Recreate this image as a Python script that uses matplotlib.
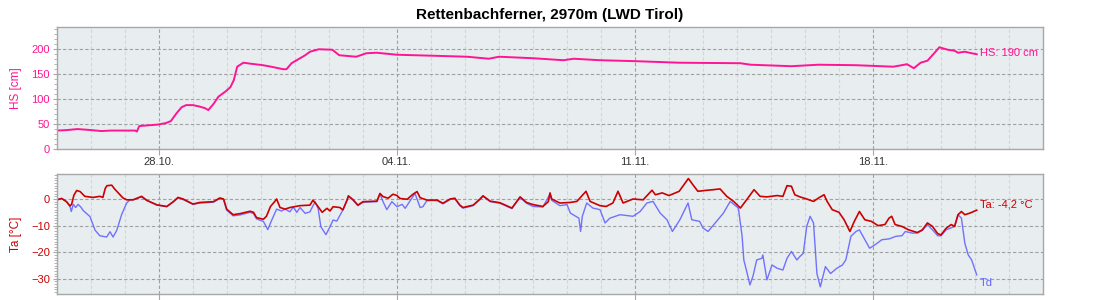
import numpy as np
import pandas as pd
import matplotlib
matplotlib.use('Agg')
import matplotlib.pyplot as plt
import matplotlib.dates as mdates
from matplotlib.ticker import MultipleLocator, FixedLocator

plt.rcParams['font.family'] = ['Liberation Sans', 'DejaVu Sans']

start = pd.Timestamp('2023-10-25')
end = pd.Timestamp('2023-11-23')
tick_days = ['2023-10-28', '2023-11-04', '2023-11-11', '2023-11-18']

# snow height HS [cm], time in days after start
hs_t = [0.0, 0.3, 0.6, 1.0, 1.3, 1.6, 2.0, 2.3, 2.35, 2.42, 2.6, 2.97, 3.2, 3.35, 3.52,
        3.67, 3.8, 4.0, 4.2, 4.35, 4.45, 4.6, 4.75, 4.95, 5.1, 5.2, 5.3, 5.48, 5.7, 6.06,
        6.3, 6.65, 6.75, 6.9, 7.1, 7.3, 7.44, 7.7, 8.1, 8.3, 8.8, 9.1, 9.4, 10.0, 11.06,
        12.06, 12.7, 13.0, 14.0, 14.9, 15.2, 15.97, 17.06, 18.3, 20.1, 20.4, 21.6, 22.4,
        23.5, 24.6, 25.0, 25.2, 25.4, 25.6, 25.8, 25.95, 26.2, 26.4, 26.5, 26.7, 26.9, 27.05]
hs_v = [37, 38, 40, 38, 36, 37, 37, 37, 35, 46, 47, 49, 52, 56, 72,
        84, 88, 88, 85, 82, 78, 90, 105, 115, 124, 138, 165, 173, 171, 168,
        165, 160, 160, 172, 180, 188, 195, 200, 199, 188, 185, 192, 193, 189, 187,
        185, 181, 185, 182, 178, 181, 178, 176, 173, 172, 169, 166, 169,
        168, 165, 170, 162, 173, 177, 192, 204, 199, 197, 193, 195, 192, 190]

# air temperature Ta [°C]
ta_t = [0.0, 0.14, 0.28, 0.38, 0.43, 0.5, 0.58, 0.68, 0.82, 1.06, 1.26, 1.35, 1.42, 1.47,
        1.61, 1.7, 1.85, 1.94, 2.05, 2.24, 2.49, 2.64, 2.94, 3.23, 3.42, 3.56, 3.71, 4.0,
        4.2, 4.6, 4.79, 4.9, 4.99, 5.18, 5.38, 5.68, 5.78, 5.87, 6.07, 6.16, 6.28, 6.4,
        6.46, 6.56, 6.71, 6.85, 7.15, 7.44, 7.53, 7.68, 7.8, 7.94, 8.03, 8.12, 8.32, 8.41,
        8.53, 8.57, 8.71, 8.85, 9.0, 9.41, 9.5, 9.59, 9.74, 9.88, 10.0, 10.09, 10.3, 10.47,
        10.59, 10.68, 10.88, 11.18, 11.35, 11.56, 11.7, 11.85, 11.94, 12.24, 12.44, 12.53,
        12.74, 13.03, 13.38, 13.62, 13.81, 14.0, 14.29, 14.45, 14.5, 14.55, 14.79, 15.09,
        15.29, 15.56, 15.68, 15.97, 16.15, 16.35, 16.5, 16.65, 16.94, 17.24, 17.5, 17.6,
        17.8, 18.0, 18.3, 18.57, 18.7, 18.85, 19.05, 19.3, 19.5, 19.7, 19.9, 20.1, 20.3,
        20.5, 20.68, 20.88, 21.18, 21.35, 21.47, 21.6, 21.7, 21.85, 22.05, 22.25, 22.4,
        22.56, 22.65, 22.8, 23.0, 23.15, 23.32, 23.45, 23.6, 23.76, 23.95, 24.15, 24.35,
        24.47, 24.55, 24.65, 24.85, 25.05, 25.3, 25.45, 25.6, 25.75, 25.9, 26.0, 26.15,
        26.3, 26.4, 26.5, 26.6, 26.7, 26.85, 27.05]
ta_v = [-0.3, 0.2, -1.0, -2.6, -2.0, 1.5, 3.2, 2.8, 1.0, 0.6, 1.0, 0.6, 4.0, 5.0,
        5.2, 3.7, 1.6, 0.4, -0.3, -0.3, 1.0, -0.5, -2.2, -2.8, -1.0, 0.6, 0.0, -1.9,
        -1.3, -1.0, 0.4, 0.0, -3.8, -5.9, -5.5, -4.6, -5.0, -7.0, -7.6, -6.5, -2.8, -1.0,
        0.0, -3.2, -3.8, -3.2, -2.5, -2.3, -0.4, -2.9, -5.0, -3.5, -4.5, -2.9, -3.2, -4.1,
        -0.4, 1.2, -0.3, -2.3, -1.0, -0.8, 2.1, 0.9, 0.3, 1.8, 1.3, 0.2, -0.1, 1.8,
        2.8, 0.5, -0.4, -0.4, -1.6, 0.0, 0.3, -2.3, -3.2, -2.3, 0.0, 1.2,
        -0.8, -1.4, -3.4, 0.8, -1.3, -2.1, -2.8, -1.0, 2.3, 0.0, -1.5, -1.3,
        -0.9, 2.9, -0.9, -2.5, -2.8, -1.5, 2.9, -1.5, 0.0, -0.3, 3.3, 1.6,
        2.3, 1.3, 2.9, 7.7, 5.4, 2.9, 3.2, 3.5, 3.8, 1.0, -0.9, -3.4, 0.0,
        3.5, 1.0, 0.8, 1.3, 1.0, 5.0, 4.8, 1.6, 0.8, 0.0, -0.9, 0.4,
        1.6, -0.9, -4.0, -5.0, -7.8, -12.2, -8.4, -4.7, -7.8, -8.4, -10.0, -9.6,
        -7.2, -6.5, -9.6, -10.3, -11.6, -12.6, -11.6, -9.0, -10.3, -13.0, -13.5, -11.0,
        -9.6, -10.3, -5.9, -4.7, -5.9, -5.3, -4.2]

# dew point Td [°C]
td_t = [0.0, 0.14, 0.28, 0.38, 0.42, 0.48, 0.55, 0.62, 0.7, 0.77, 0.97, 1.12, 1.26, 1.46,
        1.56, 1.65, 1.76, 1.9, 2.05, 2.15, 2.24, 2.49, 2.64, 2.94, 3.23, 3.42, 3.56, 3.71,
        4.0, 4.2, 4.6, 4.79, 4.9, 4.99, 5.18, 5.38, 5.68, 5.78, 5.87, 6.07, 6.2, 6.3, 6.46,
        6.6, 6.71, 6.85, 6.95, 7.05, 7.15, 7.3, 7.44, 7.59, 7.68, 7.76, 7.91, 8.03, 8.12,
        8.23, 8.38, 8.53, 8.57, 8.71, 8.85, 9.0, 9.41, 9.5, 9.59, 9.7, 9.85, 10.0, 10.15,
        10.24, 10.38, 10.53, 10.68, 10.76, 10.88, 11.18, 11.35, 11.56, 11.7, 11.85, 11.94,
        12.24, 12.44, 12.53, 12.74, 13.03, 13.38, 13.62, 13.81, 14.0, 14.29, 14.5, 14.55,
        14.79, 15.0, 15.1, 15.35, 15.4, 15.45, 15.58, 15.76, 15.97, 16.12, 16.26, 16.56,
        16.94, 17.15, 17.35, 17.53, 17.74, 17.94, 18.1, 18.32, 18.56, 18.67, 18.9, 19.0,
        19.15, 19.4, 19.6, 19.8, 20.04, 20.15, 20.2, 20.3, 20.38, 20.47, 20.58, 20.73,
        20.76, 20.88, 21.03, 21.18, 21.35, 21.47, 21.6, 21.76, 21.85, 21.95, 22.05, 22.15,
        22.25, 22.35, 22.45, 22.6, 22.75, 22.94, 23.1, 23.2, 23.35, 23.5, 23.6, 23.76,
        23.9, 24.06, 24.26, 24.47, 24.68, 24.85, 24.95, 25.15, 25.3, 25.45, 25.6, 25.75,
        25.9, 26.0, 26.15, 26.4, 26.5, 26.6, 26.7, 26.8, 26.9, 27.0, 27.05]
td_v = [-0.3, 0.2, -1.0, -2.6, -4.7, -2.0, -3.2, -2.0, -3.0, -4.3, -6.6, -11.7, -13.8, -14.3,
        -12.3, -14.3, -11.7, -5.9, -1.5, -0.3, -0.3, 0.8, -0.5, -2.3, -2.9, -1.1, 0.4, -0.2,
        -2.0, -1.5, -1.2, 0.2, -0.2, -4.2, -6.3, -6.0, -5.0, -5.5, -7.5, -8.4, -11.5, -8.4, -3.8,
        -4.5, -3.8, -4.8, -3.0, -5.0, -3.2, -5.4, -4.8, -1.0, -3.5, -10.4, -13.4, -10.4, -7.9,
        -8.3, -4.8, -0.6, 1.0, -0.5, -2.5, -1.2, -1.0, 1.9, -1.0, -4.0, -1.0, -2.9, -2.0,
        -3.5, -0.8, 2.1, -3.2, -2.9, -0.6, -0.6, -1.8, -0.2, 0.1, -2.5, -3.4,
        -2.5, -0.2, 1.0, -1.0, -1.6, -3.6, 0.6, -1.6, -2.8, -3.0, 1.8, -0.5,
        -2.5, -2.1, -5.3, -7.2, -12.2, -6.5, -1.5, -3.4, -4.0, -9.0, -7.2, -5.9,
        -6.5, -4.7, -1.5, -0.9, -5.3, -7.8, -12.2, -7.8, -1.5, -7.8, -8.4, -10.9,
        -12.2, -8.4, -5.3, -0.9, -3.4, -14.0, -22.9, -28.0, -32.3, -29.0, -22.9, -22.3,
        -21.0, -30.4, -24.8, -26.0, -26.7, -22.3, -19.7, -22.9, -21.6, -20.4, -10.3, -6.5,
        -9.0, -28.0, -33.0, -25.4, -28.0, -26.0, -24.8, -22.9, -14.0, -12.2, -11.6, -15.3,
        -18.5, -17.2, -15.3, -15.0, -14.0, -13.8, -12.2, -12.8, -12.8, -11.8, -9.6, -11.6,
        -13.8, -13.8, -11.6, -10.3, -5.9, -7.2, -16.6, -21.0, -22.9, -26.7, -28.5]


def to_dates(days):
    return start + pd.to_timedelta(np.array(days), unit='D')


hs_x = to_dates(hs_t)
ta_x = to_dates(ta_t)
td_x = to_dates(td_t)

c_hs = '#ff1493'
c_ta = '#cc0000'
c_td = '#6464ff'
bg = '#e8edf0'
spine = '#a8a8a8'

fig = plt.figure(figsize=(11, 3), dpi=100)
ax1 = fig.add_axes([0.0518, 0.5033, 0.8964, 0.4057])
ax2 = fig.add_axes([0.0518, 0.02, 0.8964, 0.40])

for ax in (ax1, ax2):
    ax.set_facecolor(bg)
    for s in ax.spines.values():
        s.set_color(spine)
        s.set_linewidth(1.0)
    ax.set_xlim(start, end)
    ax.xaxis.set_major_locator(FixedLocator(mdates.date2num(pd.to_datetime(tick_days))))
    ax.xaxis.set_minor_locator(mdates.DayLocator())
    ax.xaxis.set_major_formatter(mdates.DateFormatter('%d.%m.'))
    ax.grid(which='major', axis='both', color='#a0a0a0', linestyle=(0, (3, 2)), linewidth=0.8)
    ax.grid(which='minor', axis='x', color='#d2d6da', linestyle=(0, (3, 2)), linewidth=0.8)
    ax.tick_params(axis='x', which='major', length=4, color=spine, labelsize=8,
                   labelcolor='#333333', pad=2)
    ax.tick_params(axis='x', which='minor', length=0)
    ax.tick_params(axis='y', which='major', length=3, color=spine, labelsize=8, pad=2)
    ax.tick_params(axis='y', which='minor', length=2, color=spine)
    ax.set_axisbelow(True)

ax2.tick_params(axis='x', which='major', labelbottom=False)

# top: snow height
ax1.plot(hs_x, hs_v, color=c_hs, linewidth=1.4)
ax1.set_ylim(0, 244)
ax1.yaxis.set_major_locator(MultipleLocator(50))
ax1.yaxis.set_minor_locator(MultipleLocator(10))
ax1.tick_params(axis='y', labelcolor=c_hs)
ax1.set_ylabel('HS [cm]', color=c_hs, fontsize=8.5)
ax1.yaxis.set_label_coords(-0.035, 0.5)
ax1.text(hs_x[-1] + pd.Timedelta(hours=2), hs_v[-1] + 3, 'HS: %d cm' % hs_v[-1],
         color=c_hs, fontsize=8, ha='left', va='center')
ax1.set_title('Rettenbachferner, 2970m (LWD Tirol)', fontsize=11, fontweight='bold', pad=6)

# bottom: air temperature and dew point
ax2.plot(td_x, td_v, color=c_td, linewidth=1.0, alpha=0.9)
ax2.plot(ta_x, ta_v, color=c_ta, linewidth=1.2)
ax2.set_ylim(-35.7, 9.4)
ax2.yaxis.set_major_locator(MultipleLocator(10))
ax2.yaxis.set_minor_locator(MultipleLocator(1))
ax2.tick_params(axis='y', labelcolor=c_ta)
ax2.set_ylabel('Ta [°C]', color=c_ta, fontsize=8.5)
ax2.yaxis.set_label_coords(-0.035, 0.5)
ax2.text(ta_x[-1] + pd.Timedelta(hours=2), ta_v[-1] + 2.3,
         ('Ta: %.1f °C' % ta_v[-1]).replace('.', ','),
         color=c_ta, fontsize=8, ha='left', va='center')
ax2.text(td_x[-1] + pd.Timedelta(hours=2), td_v[-1] - 3.2, 'Td',
         color=c_td, fontsize=8, ha='left', va='center')

fig.savefig('out.png', dpi=100)
